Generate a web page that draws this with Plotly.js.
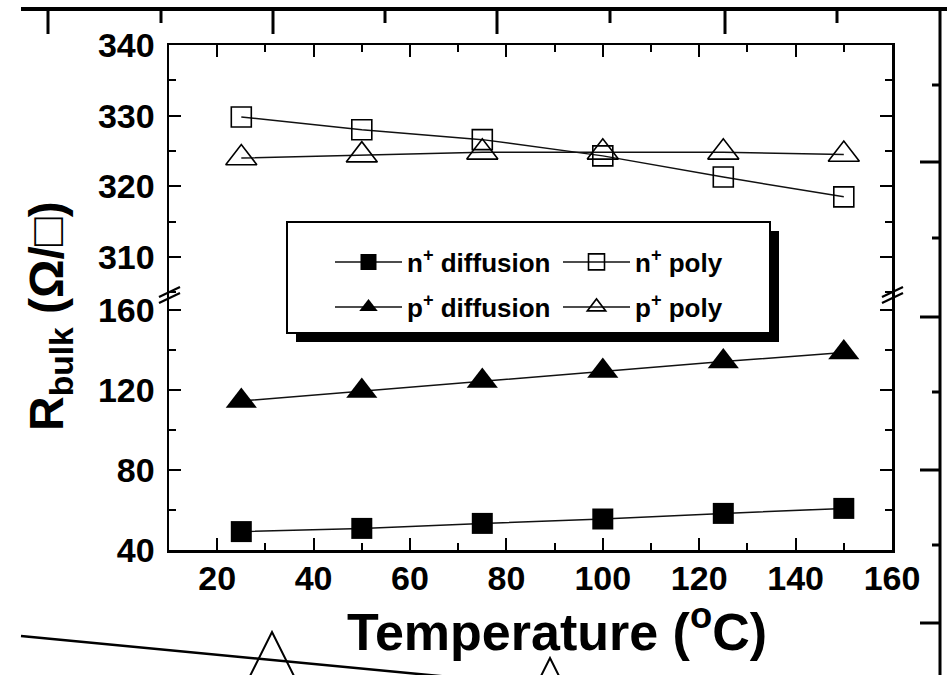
<!DOCTYPE html>
<html>
<head>
<meta charset="utf-8">
<script src="https://cdn.plot.ly/plotly-3.0.1.min.js"></script>
<style>html,body{margin:0;padding:0;background:#fff;}#chart{width:947px;height:675px;}</style>
</head>
<body>
<div id="chart"></div>
<script>
// ---- data ----
const temperature = [25, 50, 75, 100, 125, 150];
const nDiffusion  = [49.2, 50.8, 53.3, 55.5, 58.3, 60.8];
const pDiffusion  = [114.5, 119.5, 124.5, 129.5, 134.2, 138.7];
const nPoly       = [329.8, 328.0, 326.6, 324.3, 321.3, 318.5];
const pPoly       = [324.0, 324.4, 324.8, 324.8, 324.8, 324.5];
const seriesNames = ['n<sup>+</sup> diffusion', 'n<sup>+</sup> poly', 'p<sup>+</sup> diffusion', 'p<sup>+</sup> poly'];
const xTitle = 'Temperature (<sup>o</sup>C)';
const yTitle = 'R<sub>bulk</sub> (Ω/□)';

// ---- geometry helpers (pixel -> paper) ----
const W = 947, H = 675;
const M = {l: 169, r: 55, t: 45, b: 125};
const PW = W - M.l - M.r, PH = H - M.t - M.b;
const X = px => (px - M.l) / PW;
const Y = py => (H - M.b - py) / PH;
const SPLIT = Y(295);

const FONT = 'Liberation Sans, Arial, Helvetica, sans-serif';
const tickFont = {family: FONT, size: 34, color: '#000', weight: 'bold'};
const lineStyle = {color: '#111', width: 1.5};

const traces = [
  {x: temperature, y: nDiffusion, xaxis: 'x', yaxis: 'y', name: seriesNames[0], legend: 'legend',
   mode: 'lines+markers', line: lineStyle,
   marker: {symbol: 'square', size: 21, color: '#000'}},
  {x: temperature, y: nPoly, xaxis: 'x2', yaxis: 'y2', name: seriesNames[1], legend: 'legend2',
   mode: 'lines+markers', line: lineStyle,
   marker: {symbol: 'square-open', size: 20, color: '#000', line: {width: 1.6}}},
  {x: temperature, y: pDiffusion, xaxis: 'x', yaxis: 'y', name: seriesNames[2], legend: 'legend3',
   mode: 'lines+markers', line: lineStyle,
   marker: {symbol: 'triangle-up', size: 27, color: '#000'}},
  {x: temperature, y: pPoly, xaxis: 'x2', yaxis: 'y2', name: seriesNames[3], legend: 'legend4',
   mode: 'lines+markers', line: lineStyle,
   marker: {symbol: 'triangle-up-open', size: 27, color: '#000', line: {width: 1.6}}}
];

const baseX = {
  range: [10, 160], tick0: 0, dtick: 20, ticks: 'inside', ticklen: 12, tickwidth: 2, tickcolor: '#000',
  showline: true, linewidth: 2.5, linecolor: '#000', showgrid: false, zeroline: false,
  minor: {dtick: 10, ticks: 'inside', ticklen: 7, tickwidth: 2, tickcolor: '#000'},
  tickfont: tickFont, ticklabelstandoff: -3
};
const baseY = {
  ticks: 'inside', ticklen: 12, tickwidth: 2, tickcolor: '#000',
  showline: true, linewidth: 2.5, linecolor: '#000', mirror: 'ticks',
  showgrid: false, zeroline: false, tickfont: tickFont, ticklabelstandoff: 5
};

function legendAt(px, py) {
  return {x: X(px), y: Y(py), xanchor: 'left', yanchor: 'middle', orientation: 'v',
          bgcolor: 'rgba(0,0,0,0)', borderwidth: 0, itemwidth: 67,
          font: {family: FONT, size: 26, color: '#000', weight: 'bold'}};
}

const shapes = [];
function seg(x0, y0, x1, y1, w) {
  shapes.push({type: 'line', xref: 'paper', yref: 'paper', x0: X(x0), y0: Y(y0), x1: X(x1), y1: Y(y1),
               line: {color: '#000', width: w}, layer: 'above'});
}
// legend frame with drop shadow
shapes.push({type: 'rect', xref: 'paper', yref: 'paper', x0: X(296), x1: X(779), y0: Y(342), y1: Y(231),
             fillcolor: '#000', line: {width: 0}, layer: 'above'});
shapes.push({type: 'rect', xref: 'paper', yref: 'paper', x0: X(287), x1: X(770), y0: Y(333), y1: Y(222),
             fillcolor: '#fff', line: {color: '#000', width: 2}, layer: 'above'});
// axis break marks
[169, 892].forEach(cx => {
  seg(cx - 10, 297, cx + 11, 287, 2.2);
  seg(cx - 10, 303, cx + 11, 293, 2.2);
});
// neighbouring-figure fragments from the scan
seg(21, 9, 947, 9, 4);
seg(940, 7, 940, 680, 3);
[48, 161, 273, 385, 497, 610, 725, 837].forEach((tx, i) => seg(tx, 9, tx, i % 2 ? 23 : 34, 3));
[85, 162, 238, 317, 392, 470, 545, 623].forEach((ty, i) => seg(940, ty, i % 2 ? 920 : 932, ty, 3));
seg(21, 636, 450, 677, 2.5);
function tri(ax, ay, half, h) {
  shapes.push({type: 'path', xref: 'paper', yref: 'paper', layer: 'above',
    path: `M${X(ax)},${Y(ay)} L${X(ax + half)},${Y(ay + h)} L${X(ax - half)},${Y(ay + h)} Z`,
    line: {color: '#000', width: 2}, fillcolor: 'rgba(0,0,0,0)'});
}
tri(272, 632, 26, 52);
tri(550, 658, 26, 52);

const titleFont = {family: FONT, size: 52, color: '#000', weight: 'bold'};

const layout = {
  width: W, height: H, margin: M, paper_bgcolor: '#fff', plot_bgcolor: '#fff',
  showlegend: true, hovermode: false,
  font: {family: FONT, color: '#000'},
  xaxis: Object.assign({}, baseX, {anchor: 'y', domain: [0, 1]}),
  xaxis2: Object.assign({}, baseX, {anchor: 'y2', domain: [0, 1], side: 'top', showticklabels: false}),
  yaxis: Object.assign({}, baseY, {anchor: 'x', domain: [0, SPLIT], range: [40, 167.5], tick0: 0, dtick: 40,
    minor: {dtick: 20, ticks: 'inside', ticklen: 7, tickwidth: 2, tickcolor: '#000'}}),
  yaxis2: Object.assign({}, baseY, {anchor: 'x2', domain: [SPLIT, 1], range: [304.6, 340], tick0: 0, dtick: 10,
    minor: {dtick: 5, ticks: 'inside', ticklen: 7, tickwidth: 2, tickcolor: '#000'}}),
  legend: legendAt(330, 262),
  legend2: legendAt(558, 262),
  legend3: legendAt(330, 307),
  legend4: legendAt(558, 307),
  shapes: shapes,
  annotations: [
    {text: yTitle, textangle: -90, xref: 'paper', yref: 'paper', x: X(50), y: Y(316),
     xanchor: 'center', yanchor: 'middle', showarrow: false,
     font: Object.assign({}, titleFont, {size: 48})},
    {text: xTitle, xref: 'paper', yref: 'paper', x: X(557), y: Y(628),
     xanchor: 'center', yanchor: 'middle', showarrow: false, font: titleFont}
  ]
};

Plotly.newPlot('chart', traces, layout, {displayModeBar: false, staticPlot: true});
</script>
</body>
</html>
